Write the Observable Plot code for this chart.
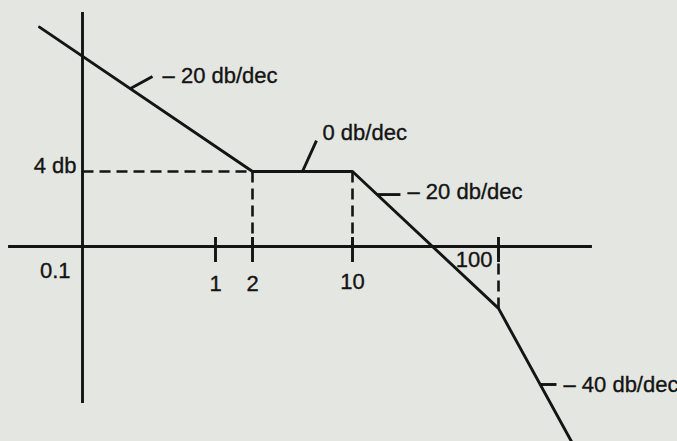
<!DOCTYPE html>
<html><head><meta charset="utf-8">
<script src="https://cdn.jsdelivr.net/npm/d3@7"></script>
<script src="https://cdn.jsdelivr.net/npm/@observablehq/plot@0.6"></script>
<style>html,body{margin:0;padding:0;background:#e4e6e1;overflow:hidden}</style>
</head><body><div id="chart"></div>
<script>
// Log-frequency anchors of the (hand-drawn, slightly uneven) axis
const axisFreqs = [0.1, 1, 2, 10, 100];
const tickFreqs = [1, 2, 10, 100];
// Asymptotic magnitude curve (db vs frequency)
const asymptoteFreq = [0.0475, 2, 10, 100, 316];
const asymptoteDb = [11.7, 4, 4, -3.3, -10.4];
// Slope annotations
const slopeLabels = ["\u2013 20 db/dec", "0 db/dec", "\u2013 20 db/dec", "\u2013 40 db/dec"];
const labelFreq = [0.400, 6.17, 23.8, 278.6];
const labelDb = [9.12, 6.03, 2.93, -7.41];
const leaderFromFreq = [0.2296, 4.47, 14.8, 194];
const leaderFromDb = [8.43, 4, 2.77, -7.36];
const leaderToFreq = [0.336, 5.60, 21.3, 249.5];
const leaderToDb = [9.07, 5.65, 2.77, -7.36];
// Axes extents
const xAxisFreq = [0.0278, 440];
const yAxisDb = [12.48, -8.37];
const levelDb = 4;
// Dashed guide lines
const guideX1 = [0.1, 2, 10, 100];
const guideY1 = [4, 4, 4, 0];
const guideX2 = [2, 2, 10, 100];
const guideY2 = [4, 0, 0, -3.3];

const ink = "#141414";
const font = "Liberation Sans, Arial, Helvetica, sans-serif";
const fs = 22;
const idx = d3.range(asymptoteFreq.length);
const li = d3.range(slopeLabels.length);
const gi = d3.range(guideX1.length);
const txt = {fontSize: fs, fill: ink, fontFamily: font, stroke: ink, strokeWidth: 0.35};

const chart = Plot.plot({
  width: 677, height: 441,
  marginTop: 0, marginRight: 0, marginBottom: 0, marginLeft: 0,
  style: {background: "#e4e6e1", fontFamily: font, overflow: "visible"},
  x: {type: "log", domain: axisFreqs, range: [82, 215, 252, 352, 498], axis: null},
  y: {domain: [0, 4], range: [246, 171], axis: null},
  marks: [
    // axes
    Plot.ruleY([0], {x1: xAxisFreq[0], x2: xAxisFreq[1], stroke: ink, strokeWidth: 2.9}),
    Plot.ruleX([axisFreqs[0]], {y1: yAxisDb[0], y2: yAxisDb[1], stroke: ink, strokeWidth: 2.9}),
    // ticks
    Plot.ruleX(tickFreqs, {y1: 0, y2: 0, insetTop: -9, insetBottom: -16, stroke: ink, strokeWidth: 2.9}),
    // dashed guides
    Plot.link(gi, {x1: i => guideX1[i], y1: i => guideY1[i], x2: i => guideX2[i], y2: i => guideY2[i],
      stroke: ink, strokeWidth: 2.6, strokeDasharray: "11,6"}),
    // asymptote
    Plot.line(idx, {x: i => asymptoteFreq[i], y: i => asymptoteDb[i], stroke: ink, strokeWidth: 2.9, strokeLinejoin: "miter"}),
    // leaders
    Plot.link(li, {x1: i => leaderFromFreq[i], y1: i => leaderFromDb[i], x2: i => leaderToFreq[i], y2: i => leaderToDb[i],
      stroke: ink, strokeWidth: 2.9}),
    // slope labels
    Plot.text(li, {x: i => labelFreq[i], y: i => labelDb[i], text: i => slopeLabels[i],
      textAnchor: "start", lineAnchor: "middle", ...txt}),
    // tick labels
    Plot.text([0.1], {x: d => d, y: 0, text: d => "0.1", textAnchor: "end", dx: -12, dy: 24, ...txt}),
    Plot.text([1, 2], {x: d => d, y: 0, text: d => String(d), textAnchor: "middle", dy: 37, ...txt}),
    Plot.text([10], {x: d => d, y: 0, text: d => String(d), textAnchor: "middle", dy: 35, ...txt}),
    Plot.text([100], {x: d => d, y: 0, text: d => String(d), textAnchor: "end", dx: -6, dy: 13, ...txt}),
    Plot.text([levelDb], {x: axisFreqs[0], y: d => d, text: d => d + " db", textAnchor: "end", dx: -6, dy: -6, ...txt})
  ]
});
document.getElementById("chart").appendChild(chart);
</script>
</body></html>
